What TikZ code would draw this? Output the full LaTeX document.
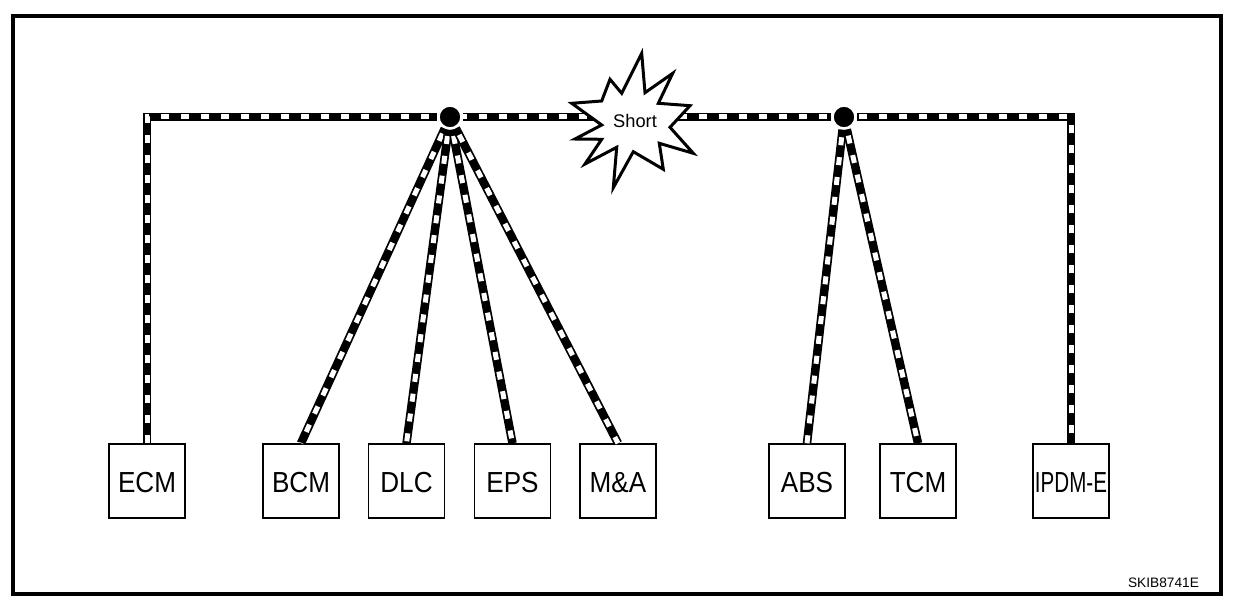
\documentclass[tikz,border=0pt]{standalone}
\usepackage{fontspec}
\setmainfont{Liberation Sans}
\usetikzlibrary{calc}

\newcommand{\unitlabel}[2][.9]{\scalebox{#1}[1]{#2}}

\tikzset{
  unit/.style={draw,line width=0.3mm,minimum width=1.52cm,minimum height=1.48cm,inner sep=0pt,text height=13.2pt,text depth=0pt,font=\fontsize{16.5}{16.5}\selectfont},
  hub/.style={circle,fill=black,draw=white,line width=0.5mm,minimum size=0.46cm,inner sep=0pt},
  wire/.style={line width=1.7mm,postaction={draw=white,line width=1mm,dash pattern=on 1.6mm off 2.4mm,dash phase=#1}},
  wire/.default=0mm,
}

\begin{document}
\begin{tikzpicture}[line cap=butt,line join=miter,x=0.02cm,y=-0.02cm]
\useasboundingbox (0,0) rectangle (1248,608);

\draw[line width=0.8mm] (13,16) rectangle (1221,594);

\node[unit] (ecm) at (147,481) {\unitlabel{ECM}};
\node[unit] (bcm) at (301,481) {\unitlabel{BCM}};
\node[unit] (dlc) at (406.5,481) {\unitlabel{DLC}};
\node[unit] (eps) at (512.5,481) {\unitlabel{EPS}};
\node[unit] (ma) at (618,481) {\unitlabel{M\&A}};
\node[unit] (abs) at (807,481) {\unitlabel{ABS}};
\node[unit] (tcm) at (918,481) {\unitlabel{TCM}};
\node[unit] (ipdm) at (1071,481) {\unitlabel[.71]{IPDM-E}};

\node[hub] (hubA) at (450,117) {};
\node[hub] (hubB) at (844,117) {};

\draw[wire] (ecm.north) |- (hubA);
\draw[wire=1.5mm] (bcm.north) -- (hubA);
\draw[wire=3.6mm] (dlc.north) -- (hubA);
\draw[wire=3mm] (eps.north) -- (hubA);
\draw[wire=0.2mm] (ma.north) -- (hubA);
\draw[wire=0.8mm] (hubA) -- (hubB);
\draw[wire] (abs.north) -- (hubB);
\draw[wire=2.5mm] (tcm.north) -- (hubB);
\draw[wire=2mm] (ipdm.north) |- (hubB);

% short
\draw[line width=0.6mm,fill=white] (641.7,53.3) -- (645,92.7) -- (672.7,73.3) -- (658.3,103.3)
  -- (690,105.7) -- (670,127.3) -- (693.3,153.3) -- (659.3,143.3) -- (663.3,169.3)
  -- (633.3,151.7) -- (613.3,187.7) -- (616.7,147.3) -- (585,164) -- (601.7,139.3)
  -- (575,139) -- (601.7,125) -- (571.7,103.3) -- (601.7,101) -- (610,79.3) -- (621.7,93.3) -- cycle;
\node[font=\fontsize{10.4}{10.4}\selectfont] (short) at (635,121) {Short};

\node[font=\fontsize{7.8}{7.8}\selectfont] (code) at (1163.5,582.7) {SKIB8741E};
\end{tikzpicture}
\end{document}
